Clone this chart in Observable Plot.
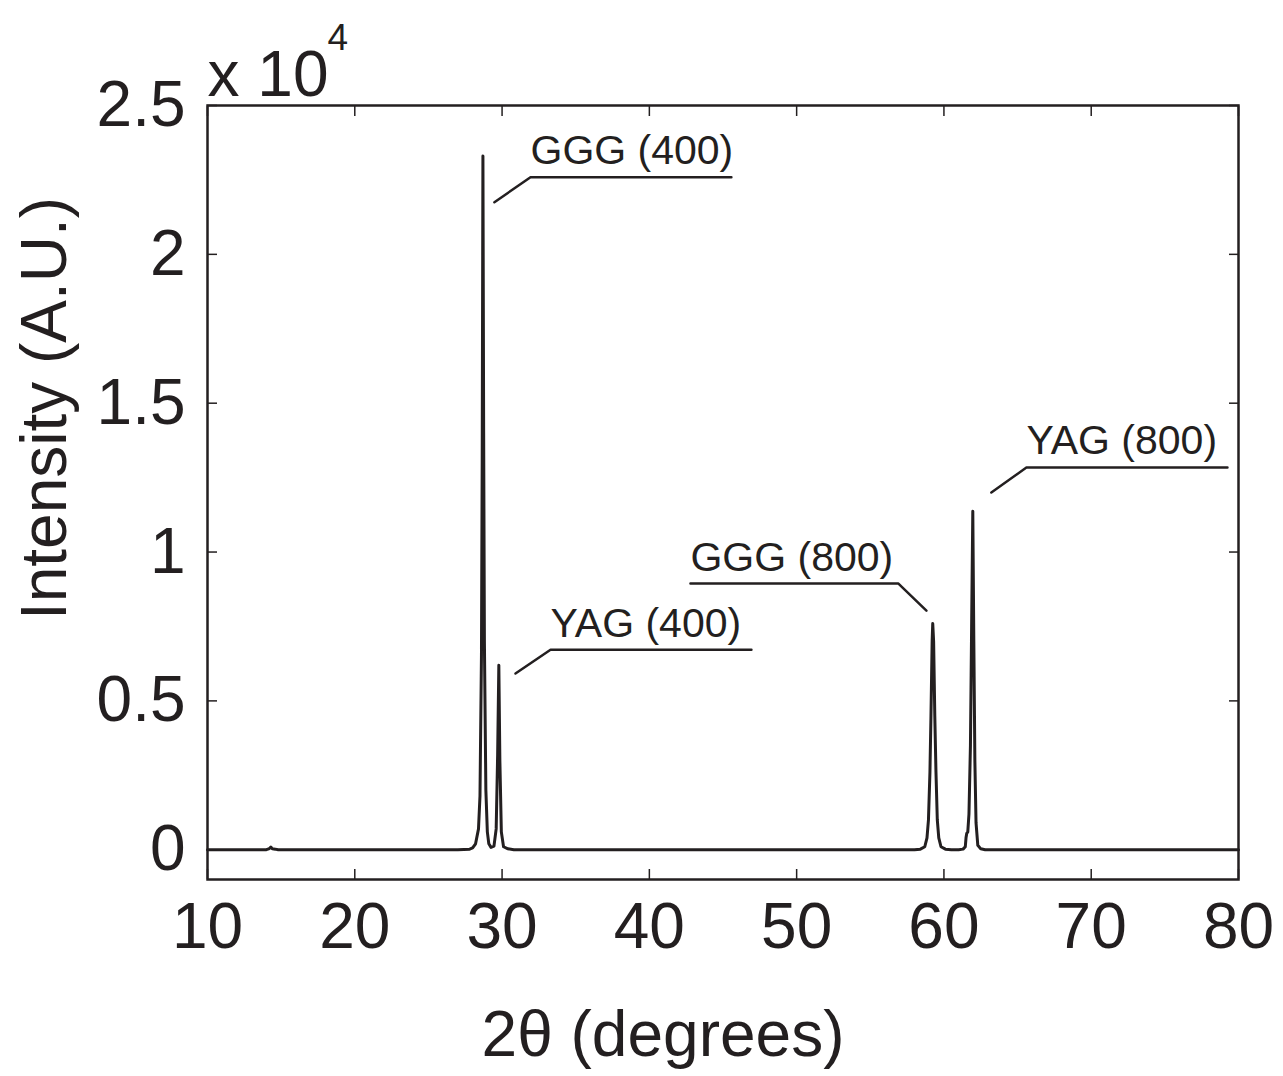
<!DOCTYPE html>
<html>
<head>
<meta charset="utf-8">
<script src="https://cdn.jsdelivr.net/npm/d3@7"></script>
<script src="https://cdn.jsdelivr.net/npm/@observablehq/plot@0.6"></script>
<style>
  html, body { margin: 0; padding: 0; background: #fff; }
  #chart svg { display: block; }
</style>
</head>
<body>
<div id="chart"></div>
<script>
// 2θ (degrees) and intensity (counts)
const theta = [
  10, 12, 14.0, 14.2, 14.3, 14.4, 14.6, 14.8, 16, 20, 24, 27.0, 27.8, 28.0, 28.2, 28.4, 28.5, 28.6, 28.65,
  28.70, 28.75, 28.8, 28.9, 29.0, 29.1, 29.25, 29.45, 29.6, 29.7, 29.78, 29.85,
  29.95, 30.1, 30.4, 30.8, 35, 40, 45, 50, 55, 58.0, 58.4, 58.7, 58.85, 58.95,
  59.05, 59.12, 59.2, 59.24, 59.3, 59.38, 59.46, 59.55, 59.65, 59.8, 60.1, 60.5,
  61.0, 61.3, 61.45, 61.5, 61.55, 61.62, 61.7, 61.8, 61.88, 61.96, 62.03, 62.1,
  62.18, 62.3, 62.5, 62.8, 65, 70, 75, 80
];
const intensity = [
  0, 0, 0, 40, 90, 30, 20, 0, 0, 0, 0, 0, 20, 60, 200, 700, 1800, 6500, 13000,
  23300, 14000, 7000, 2000, 600, 200, 80, 120, 700, 3200, 6200, 3000,
  600, 100, 30, 0, 0, 0, 0, 0, 0, 0, 20, 100, 400, 1000,
  2600, 4500, 7000, 7600, 7000, 4500, 2600, 1000, 400, 100, 20, 0,
  0, 20, 100, 400, 550, 600, 1200, 3500, 7500, 11370, 7000, 3000,
  900, 150, 30, 0, 0, 0, 0, 0
];

const xTicks = [10, 20, 30, 40, 50, 60, 70, 80];
const yTicks = [0, 5000, 10000, 15000, 20000, 25000];

// Peak annotations: label, leader line (tip -> corner -> end)
const annLabels = ["GGG (400)", "YAG (400)", "GGG (800)", "YAG (800)"];
const annTextX = [31.93, 33.29, 42.79, 65.6];
const annTextY = [22590, 6720, 8940, 12840];
const annLineId = ["a","a","a", "b","b","b", "c","c","c", "d","d","d"];
const annLineX  = [29.48, 31.93, 45.57,  30.91, 33.29, 46.93,  42.79, 56.91, 58.81,  63.22, 65.6, 79.25];
const annLineY  = [21750, 22590, 22590,  5920, 6720, 6720,  8940, 8940, 8030,  12000, 12840, 12840];

const xLabel = "2θ (degrees)";
const yLabel = "Intensity (A.U.)";
const expBase = "x 10";
const expPow = "4";

const spectrum = theta.map((t, i) => ({t, v: intensity[i]}));
const ann = annLabels.map((s, i) => ({s, x: annTextX[i], y: annTextY[i]}));
const leaders = annLineId.map((id, i) => ({id, x: annLineX[i], y: annLineY[i]}));

const ink = "#231f20";

const chart = Plot.plot({
  width: 1283,
  height: 1076,
  marginLeft: 207,
  marginRight: 45,
  marginTop: 105,
  marginBottom: 197,
  style: {fontFamily: "'Liberation Sans', Arial, sans-serif", color: ink, background: "#fff"},
  x: {domain: [10, 80], label: null},
  y: {domain: [-1000, 25000], label: null},
  marks: [
    Plot.line(spectrum, {x: "t", y: "v", stroke: ink, strokeWidth: 3}),
    Plot.line(leaders, {x: "x", y: "y", z: "id", stroke: ink, strokeWidth: 2.5}),
    Plot.text(ann, {x: "x", y: "y", text: "s", textAnchor: "start", lineAnchor: "bottom", dx: 0, dy: -13, fontSize: 41, fill: ink}),
    Plot.frame({stroke: ink, strokeWidth: 2.5}),
    Plot.axisX({ticks: xTicks, tickSize: 0, tickPadding: 23, fontSize: 64, label: null, fill: ink}),
    Plot.axisX({anchor: "bottom", ticks: xTicks, tickSize: -10, tickFormat: () => "", label: null, stroke: ink, strokeWidth: 1.5}),
    Plot.axisX({anchor: "top", ticks: xTicks, tickSize: -10, tickFormat: () => "", label: null, stroke: ink, strokeWidth: 1.5}),
    Plot.axisY({ticks: yTicks, tickSize: 0, tickPadding: 22, fontSize: 64, label: null, tickFormat: d => String(d / 1e4), fill: ink}),
    Plot.axisY({anchor: "left", ticks: yTicks, tickSize: -10, tickFormat: () => "", label: null, stroke: ink, strokeWidth: 1.5}),
    Plot.axisY({anchor: "right", ticks: yTicks, tickSize: -10, tickFormat: () => "", label: null, stroke: ink, strokeWidth: 1.5}),
    Plot.text([xLabel], {text: d => d, frameAnchor: "bottom", textAnchor: "middle", lineAnchor: "bottom", dx: -60, dy: 176, fontSize: 64, fill: ink}),
    Plot.text([yLabel], {text: d => d, frameAnchor: "left", textAnchor: "middle", lineAnchor: "bottom", rotate: -90, dx: -142, dy: -84, fontSize: 64, fill: ink}),
    Plot.text([expBase], {text: d => d, frameAnchor: "top-left", textAnchor: "start", lineAnchor: "bottom", dx: 0, dy: -10, fontSize: 64, fill: ink}),
    Plot.text([expPow], {text: d => d, frameAnchor: "top-left", textAnchor: "start", lineAnchor: "bottom", dx: 120, dy: -56, fontSize: 37, fill: ink})
  ]
});
document.getElementById("chart").appendChild(chart);
</script>
</body>
</html>
